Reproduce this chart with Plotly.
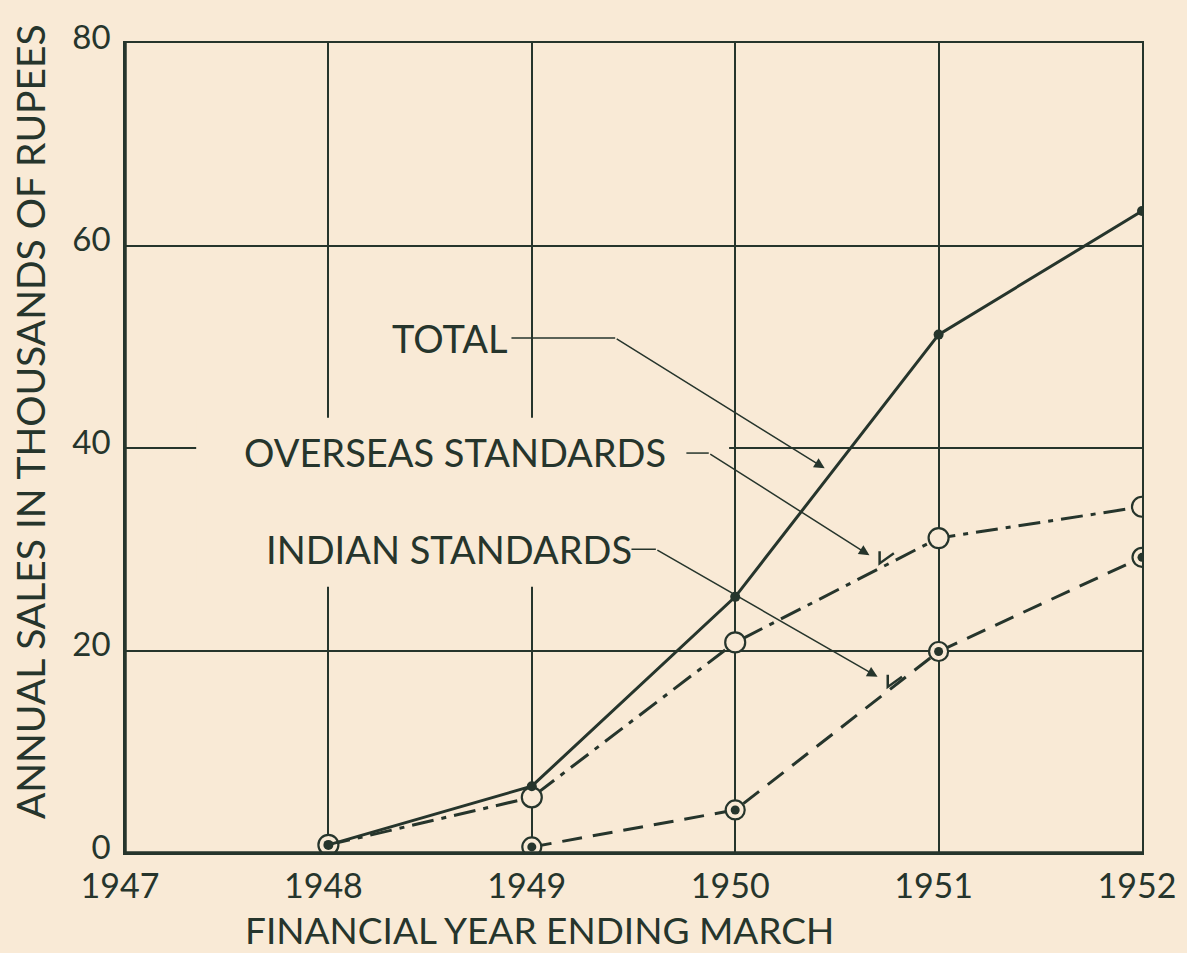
import plotly.graph_objects as go

years = [1948, 1949, 1950, 1951, 1952]
total = [0.8, 6.6, 25.3, 51.2, 63.4]
overseas = [0.8, 5.5, 20.8, 31.1, 34.2]
indian_years = [1949, 1950, 1951, 1952]
indian = [0.6, 4.25, 19.9, 29.2]

x_ticks = [1947, 1948, 1949, 1950, 1951, 1952]
y_ticks = [0, 20, 40, 60, 80]

BG = "#f9ead6"
INK = "#26352c"
FONT = "Lato"

fig = go.Figure()

fig.add_trace(go.Scatter(
    x=years, y=overseas, mode="lines+markers",
    line=dict(color=INK, width=3, dash="22px,8px,5px,8px"),
    marker=dict(size=20, color=BG, line=dict(color=INK, width=2.2)),
    showlegend=False))
fig.add_trace(go.Scatter(
    x=indian_years, y=indian, mode="lines+markers",
    line=dict(color=INK, width=3, dash="20px,11px"),
    marker=dict(size=19, color=BG, line=dict(color=INK, width=2.2)),
    showlegend=False))
fig.add_trace(go.Scatter(
    x=indian_years, y=indian, mode="markers",
    marker=dict(size=9, color=INK), showlegend=False))
fig.add_trace(go.Scatter(
    x=years, y=total, mode="lines+markers",
    line=dict(color=INK, width=3),
    marker=dict(size=10, color=INK), showlegend=False))

shapes = []
# blank region behind labels (covers gridlines only)
shapes.append(dict(type="rect", xref="x", yref="y", x0=1947.35, x1=1949.97, y0=26.3, y1=43.0,
                   fillcolor=BG, line=dict(width=0), layer="between"))
# leader horizontal segments
for (x0, x1, y) in [(1948.90, 1949.41, 50.86), (1949.76, 1949.87, 39.5), (1949.49, 1949.61, 30.0)]:
    shapes.append(dict(type="line", xref="x", yref="y", x0=x0, x1=x1, y0=y, y1=y,
                       line=dict(color=INK, width=1.5)))
# small L ticks at arrow ends
for (xa, ya) in [(1950.71, 29.8), (1950.75, 17.6)]:
    shapes.append(dict(type="path", xref="x", yref="y",
                       path=f"M {xa},{ya} L {xa},{ya-1.2} L {xa+0.07},{ya-0.2}",
                       line=dict(color=INK, width=2.5)))
# thick left and bottom frame
shapes.append(dict(type="line", xref="paper", yref="paper", x0=0, x1=0, y0=0, y1=1,
                   line=dict(color=INK, width=3.5)))
shapes.append(dict(type="line", xref="paper", yref="paper", x0=0, x1=1, y0=0, y1=0,
                   line=dict(color=INK, width=3.5)))

annotations = []
for (txt, x, y) in [("TOTAL", 1948.593, 50.86), ("OVERSEAS STANDARDS", 1948.622, 39.6),
                    ("INDIAN STANDARDS", 1948.593, 30.0)]:
    annotations.append(dict(text=txt, x=x, y=y, xref="x", yref="y", showarrow=False,
                            font=dict(family=FONT, size=38, color=INK)))
for (x0, y0, x1, y1) in [(1949.41, 50.86, 1950.44, 38.0), (1949.87, 39.5, 1950.66, 29.4),
                         (1949.61, 30.0, 1950.70, 17.4)]:
    annotations.append(dict(text="", x=x1, y=y1, ax=x0, ay=y0, xref="x", yref="y",
                            axref="x", ayref="y", showarrow=True, arrowhead=2,
                            arrowsize=1.4, arrowwidth=1.5, arrowcolor=INK))
# axis titles
annotations.append(dict(text="FINANCIAL YEAR ENDING MARCH", xref="paper", yref="paper",
                        x=0.408, y=-0.094, xanchor="center", yanchor="middle", showarrow=False,
                        font=dict(family=FONT, size=37, color=INK)))
annotations.append(dict(text="ANNUAL SALES IN THOUSANDS OF RUPEES", xref="paper", yref="paper",
                        x=-0.0934, y=0.532, xanchor="center", yanchor="middle",
                        textangle=-90, showarrow=False,
                        font=dict(family=FONT, size=39, color=INK)))

fig.update_layout(
    width=1187, height=953,
    margin=dict(l=125, r=45, t=43, b=100),
    paper_bgcolor=BG, plot_bgcolor=BG,
    font=dict(family=FONT, color=INK),
    shapes=shapes, annotations=annotations,
    xaxis=dict(range=[1947, 1952], tickvals=x_ticks, ticktext=[str(v) for v in x_ticks],
               showgrid=True, gridcolor=INK, gridwidth=1.5, zeroline=False,
               showline=True, mirror=True, linecolor=INK, linewidth=1.5,
               ticks="", ticklabelstandoff=2, ticklabelshift=-5,
               tickfont=dict(size=34, family=FONT, color=INK)),
    yaxis=dict(range=[0, 80], tickvals=y_ticks,
               showgrid=True, gridcolor=INK, gridwidth=1.5, zeroline=False,
               showline=True, mirror=True, linecolor=INK, linewidth=1.5,
               ticks="", ticklabelstandoff=6, ticklabelshift=-6,
               tickfont=dict(size=33, family=FONT, color=INK)),
)

fig.write_html("out.html", config={"displayModeBar": False},
               post_script="document.body.style.margin='0';document.body.style.background='%s';" % BG)
